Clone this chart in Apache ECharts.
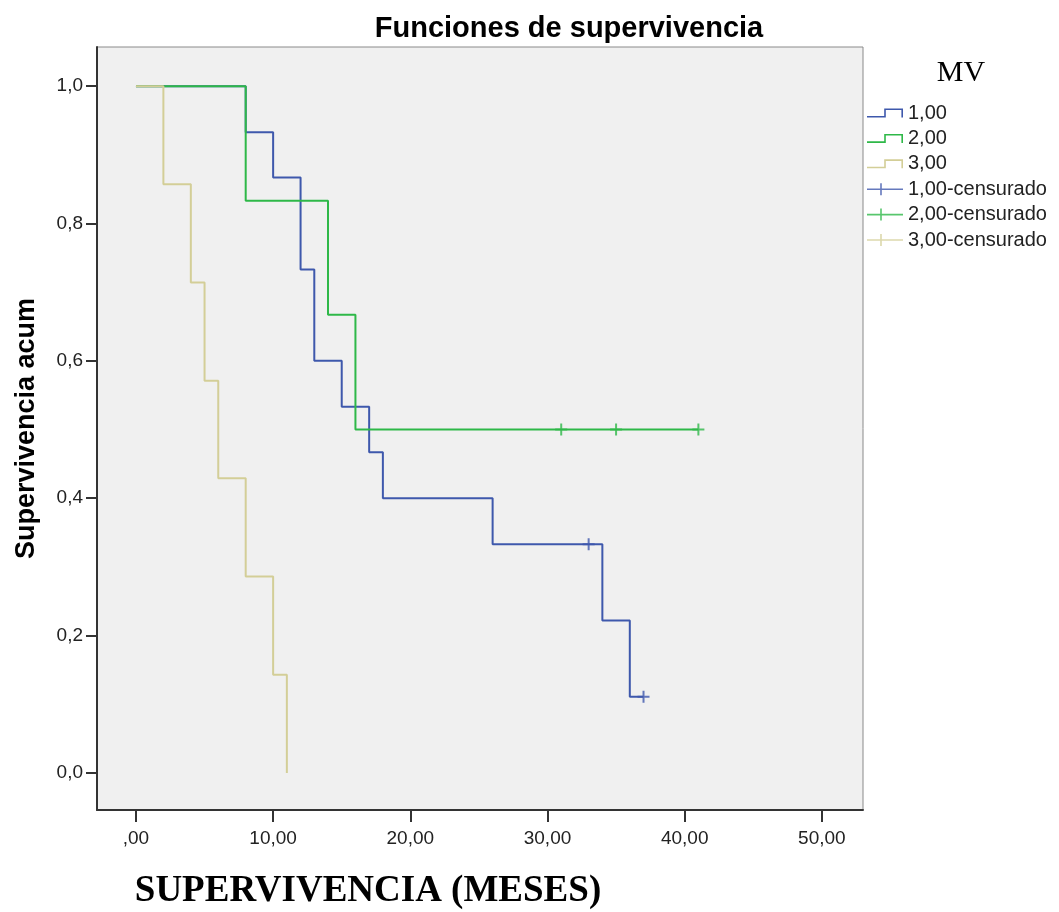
<!DOCTYPE html>
<html>
<head>
<meta charset="utf-8">
<script src="https://cdn.jsdelivr.net/npm/echarts@6/dist/echarts.min.js"></script>
<style>
html,body{margin:0;padding:0;background:#ffffff;}
#chart{width:1059px;height:912px;}
</style>
</head>
<body>
<div id="chart"></div>
<script>
// ---- Data ----
const groupNames = ['1,00', '2,00', '3,00'];
const censorNames = ['1,00-censurado', '2,00-censurado', '3,00-censurado'];

// Kaplan-Meier step points (time in months, cumulative survival)
const g1Times = [0, 8, 10, 12, 13, 15, 17, 18, 26, 34, 36, 37];
const g1Surv  = [1.0, 0.933, 0.867, 0.733, 0.600, 0.533, 0.467, 0.400, 0.333, 0.222, 0.111, 0.111];
const g2Times = [0, 8, 14, 16, 41];
const g2Surv  = [1.0, 0.833, 0.667, 0.500, 0.500];
const g3Times = [0, 2, 4, 5, 6, 8, 10, 11];
const g3Surv  = [1.0, 0.857, 0.714, 0.571, 0.429, 0.286, 0.143, 0.0];

// Censored observations
const c1Times = [33, 37];
const c1Surv  = [0.333, 0.111];
const c2Times = [31, 35, 41];
const c2Surv  = [0.5, 0.5, 0.5];
const c3Times = [];
const c3Surv  = [];

// Tick labels
const xTicks = [0, 10, 20, 30, 40, 50];
const xTickLabels = [',00', '10,00', '20,00', '30,00', '40,00', '50,00'];
const yTicks = [0, 0.2, 0.4, 0.6, 0.8, 1.0];
const yTickLabels = ['0,0', '0,2', '0,4', '0,6', '0,8', '1,0'];

// Texts
const chartTitle = 'Funciones de supervivencia';
const legendTitle = 'MV';
const xTitle = 'SUPERVIVENCIA (MESES)';
const yTitle = 'Supervivencia acum';

// ---- Styles ----
const colors = ['#3E58AC', '#2EB848', '#D3CE97'];
const sans = '"Liberation Sans", Arial, sans-serif';
const serif = '"Liberation Serif", "Times New Roman", serif';
const stepIcon = 'path://M0,7.4 L17.2,7.4 L17.2,0 L36,0 L36,9 L34.4,9 L34.4,1.6 L18.8,1.6 L18.8,9 L0,9 Z';
const censorIcon = 'path://M0,5.2 L36,5.2 L36,6.8 L0,6.8 Z M13.2,0 L14.8,0 L14.8,12 L13.2,12 Z';
const plusSymbol = 'path://M5,0 L7,0 L7,5 L12,5 L12,7 L7,7 L7,12 L5,12 L5,7 L0,7 L0,5 L5,5 Z';

function zip(a, b) { return a.map((v, i) => [v, b[i]]); }
function lookup(ticks, labels, v) {
  const i = ticks.findIndex(t => Math.abs(t - v) < 1e-6);
  return i >= 0 ? labels[i] : '';
}

const curves = [zip(g1Times, g1Surv), zip(g2Times, g2Surv), zip(g3Times, g3Surv)];
const censors = [zip(c1Times, c1Surv), zip(c2Times, c2Surv), zip(c3Times, c3Surv)];

const series = [];
curves.forEach((d, i) => {
  series.push({
    name: groupNames[i], type: 'line', step: 'end', data: d,
    showSymbol: false, symbol: 'none', silent: true,
    lineStyle: { color: colors[i], width: 2 },
    itemStyle: { color: colors[i] },
    z: 2 + i
  });
});
censors.forEach((d, i) => {
  series.push({
    name: censorNames[i], type: 'scatter', data: d,
    symbol: plusSymbol, symbolSize: 12, silent: true,
    itemStyle: { color: colors[i] },
    z: 6
  });
});

const legendData = groupNames.map((n, i) => ({ name: n, icon: stepIcon, itemStyle: { color: colors[i], borderWidth: 0 } }))
  .concat(censorNames.map((n, i) => ({ name: n, icon: censorIcon, itemStyle: { color: colors[i], borderWidth: 0 } })));

const option = {
  backgroundColor: '#ffffff',
  animation: false,
  title: [
    { text: chartTitle, left: 569, top: 14, padding: 0, textAlign: 'center',
      textStyle: { fontFamily: sans, fontSize: 29, fontWeight: 'bold', color: '#000' } },
    { text: legendTitle, left: 961, top: 58, padding: 0, textAlign: 'center',
      textStyle: { fontFamily: serif, fontSize: 30, fontWeight: 'normal', color: '#000' } },
    { text: xTitle, left: 368, top: 873, padding: 0, textAlign: 'center',
      textStyle: { fontFamily: serif, fontSize: 37, fontWeight: 'bold', color: '#000' } }
  ],
  legend: {
    data: legendData,
    orient: 'vertical', left: 867, top: 103, padding: 0,
    itemWidth: 36, itemHeight: 12, itemGap: 5.4,
    selectedMode: false,
    textStyle: { fontFamily: sans, fontSize: 20, color: '#222', lineHeight: 20 }
  },
  grid: {
    left: 97, top: 47, width: 766, height: 763,
    show: true, backgroundColor: '#F0F0F0', borderColor: '#8a8a8a', borderWidth: 1,
    containLabel: false
  },
  xAxis: {
    type: 'value', min: -2.84, max: 53,
    splitLine: { show: false },
    axisLine: { show: true, onZero: false, lineStyle: { color: '#333', width: 2 } },
    axisTick: { show: true, customValues: xTicks, length: 12, lineStyle: { color: '#333', width: 2 } },
    axisLabel: { customValues: xTicks, margin: 19, fontFamily: sans, fontSize: 19, color: '#222',
      formatter: v => lookup(xTicks, xTickLabels, v) }
  },
  yAxis: {
    type: 'value', min: -0.054, max: 1.057,
    name: yTitle, nameLocation: 'middle', nameGap: 57,
    nameTextStyle: { fontFamily: sans, fontSize: 27, fontWeight: 'bold', color: '#000' },
    splitLine: { show: false },
    axisLine: { show: true, onZero: false, lineStyle: { color: '#333', width: 2 } },
    axisTick: { show: true, customValues: yTicks, length: 11, lineStyle: { color: '#333', width: 2 } },
    axisLabel: { customValues: yTicks, margin: 14, fontFamily: sans, fontSize: 19, color: '#222',
      formatter: v => lookup(yTicks, yTickLabels, v) }
  },
  series: series
};

const chart = echarts.init(document.getElementById('chart'), null, { renderer: 'canvas' });
chart.setOption(option);
</script>
</body>
</html>
